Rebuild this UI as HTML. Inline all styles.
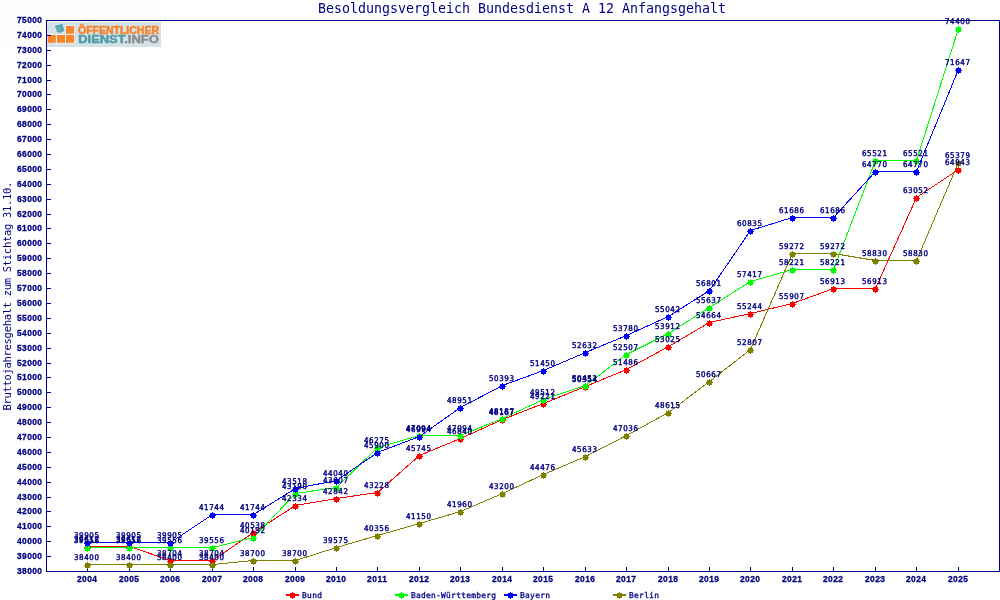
<!DOCTYPE html>
<html lang="de"><head><meta charset="utf-8"><title>Besoldungsvergleich Bundesdienst A 12 Anfangsgehalt</title>
<style>
html,body{margin:0;padding:0;background:#fff;}
body{width:1000px;height:600px;overflow:hidden;}
svg{display:block;}
text{fill:#000080;white-space:pre;}
.t0 text,text.t0{stroke:#000080;stroke-width:0.3px;}
.t0b text{stroke:#000080;stroke-width:0.3px;}
.tv text{stroke:#000080;stroke-width:0.4px;}
.t0{font-family:"DejaVu Sans Mono","Liberation Mono",monospace;font-size:7.9px;}
.t0b{font-family:"Liberation Sans","DejaVu Sans",sans-serif;font-size:8.4px;font-weight:bold;}
.tv{font-family:"DejaVu Sans","DejaVu Sans Mono",sans-serif;font-stretch:condensed;font-size:7.9px;}
.t1{font-family:"DejaVu Sans Mono","Liberation Mono",monospace;font-size:10.5px;}
.t2{font-family:"DejaVu Sans Mono","Liberation Mono",monospace;font-size:13.29px;}
.lg{font-family:"Liberation Sans",sans-serif;font-weight:bold;font-size:10.1px;stroke-width:0.45px;}
</style></head><body>
<svg width="1000" height="600" viewBox="0 0 1000 600">
<rect x="0" y="0" width="1000" height="600" fill="#ffffff"/>
<rect x="0" y="0" width="161" height="47" fill="#fdfefc"/>
<g id="logo">
<rect x="47" y="22" width="114" height="25" fill="#d5e3e9"/>
<path d="M47 34.2H75V43.6H47zM65.3 25.2H75V34.6H65.3z" fill="#eef3f4"/>
<rect x="47.7" y="35.0" width="8.1" height="7.8" fill="#fc8529"/>
<rect x="57.0" y="35.0" width="8.1" height="7.8" fill="#fc8529"/>
<rect x="66.0" y="35.0" width="8.1" height="7.8" fill="#fc8529"/>
<rect x="66.0" y="26.0" width="8.1" height="7.8" fill="#fc8529"/>
<path d="M55.2 25.5 L58.5 24.8 L62.8 23.7 L63.0 26.4 L64.2 28.6 L64.2 30.9 L63 31.8 L60.2 32.9 L58 32.4 L56.4 31.6 L56.3 28.8 L55.1 27.3 Z" fill="#5fa8b1" stroke="#eef3f4" stroke-width="1" paint-order="stroke" stroke-linejoin="round"/>
<text class="lg" x="78" y="33.6" style="fill:#fb8125;stroke:#fb8125" textLength="81" lengthAdjust="spacingAndGlyphs">ÖFFENTLICHER</text>
<text class="lg" x="78.2" y="42.6" textLength="80.6" lengthAdjust="spacingAndGlyphs"><tspan style="fill:#4f9ba6;stroke:#4f9ba6">DIENST</tspan><tspan style="fill:#8a8d92;stroke:#8a8d92">.INFO</tspan></text>
</g>
<text class="t2" x="522" y="12.6" text-anchor="middle" textLength="408" lengthAdjust="spacing">Besoldungsvergleich Bundesdienst A 12 Anfangsgehalt</text>
<text class="t1" transform="translate(11,296.1) rotate(-90)" text-anchor="middle" textLength="229" lengthAdjust="spacing">Bruttojahresgehalt zum Stichtag 31.10.</text>
<g shape-rendering="crispEdges" fill="#000080" stroke="none">
<rect x="46" y="20" width="954" height="1"/>
<rect x="46" y="571" width="954" height="1"/>
<rect x="46" y="20" width="1" height="552"/>
<rect x="999" y="20" width="1" height="552"/>
<path d="M87 567h1v4h-1zM129 567h1v4h-1zM170 567h1v4h-1zM212 567h1v4h-1zM253 567h1v4h-1zM295 567h1v4h-1zM336 567h1v4h-1zM377 567h1v4h-1zM419 567h1v4h-1zM460 567h1v4h-1zM502 567h1v4h-1zM543 567h1v4h-1zM585 567h1v4h-1zM626 567h1v4h-1zM668 567h1v4h-1zM709 567h1v4h-1zM750 567h1v4h-1zM792 567h1v4h-1zM833 567h1v4h-1zM875 567h1v4h-1zM916 567h1v4h-1zM958 567h1v4h-1zM47 571h4v1h-4zM47 556h4v1h-4zM47 541h4v1h-4zM47 526h4v1h-4zM47 511h4v1h-4zM47 497h4v1h-4zM47 482h4v1h-4zM47 467h4v1h-4zM47 452h4v1h-4zM47 437h4v1h-4zM47 422h4v1h-4zM47 407h4v1h-4zM47 392h4v1h-4zM47 377h4v1h-4zM47 363h4v1h-4zM47 348h4v1h-4zM47 333h4v1h-4zM47 318h4v1h-4zM47 303h4v1h-4zM47 288h4v1h-4zM47 273h4v1h-4zM47 258h4v1h-4zM47 243h4v1h-4zM47 228h4v1h-4zM47 214h4v1h-4zM47 199h4v1h-4zM47 184h4v1h-4zM47 169h4v1h-4zM47 154h4v1h-4zM47 139h4v1h-4zM47 124h4v1h-4zM47 109h4v1h-4zM47 94h4v1h-4zM47 80h4v1h-4zM47 65h4v1h-4zM47 50h4v1h-4zM47 35h4v1h-4zM47 20h4v1h-4z"/>
</g>
<g shape-rendering="crispEdges" fill="none" stroke-width="1">
<polyline points="87.5,546.5 129.5,546.5 170.5,560.5 212.5,560.5 253.5,532.5 295.5,505.5 336.5,498.5 377.5,492.5 419.5,455.5 460.5,438.5 502.5,419.5 543.5,403.5 585.5,386.5 626.5,369.5 668.5,346.5 709.5,322.5 750.5,313.5 792.5,303.5 833.5,288.5 875.5,288.5 916.5,197.5 958.5,169.5" stroke="#ff0000"/>
<polyline points="87.5,547.5 129.5,547.5 170.5,547.5 212.5,547.5 253.5,537.5 295.5,493.5 336.5,487.5 377.5,447.5 419.5,435.5 460.5,435.5 502.5,418.5 543.5,399.5 585.5,385.5 626.5,354.5 668.5,333.5 709.5,307.5 750.5,281.5 792.5,269.5 833.5,269.5 875.5,160.5 916.5,160.5 958.5,28.5" stroke="#00ff00"/>
<polyline points="87.5,542.5 129.5,542.5 170.5,542.5 212.5,514.5 253.5,514.5 295.5,488.5 336.5,480.5 377.5,452.5 419.5,436.5 460.5,407.5 502.5,385.5 543.5,370.5 585.5,352.5 626.5,335.5 668.5,316.5 709.5,290.5 750.5,230.5 792.5,217.5 833.5,217.5 875.5,171.5 916.5,171.5 958.5,69.5" stroke="#0000ff"/>
<polyline points="87.5,564.5 129.5,564.5 170.5,564.5 212.5,564.5 253.5,560.5 295.5,560.5 336.5,547.5 377.5,535.5 419.5,523.5 460.5,511.5 502.5,493.5 543.5,474.5 585.5,456.5 626.5,435.5 668.5,412.5 709.5,381.5 750.5,349.5 792.5,253.5 833.5,253.5 875.5,260.5 916.5,260.5 958.5,162.5" stroke="#808000"/>
</g>
<g shape-rendering="crispEdges" stroke="none">
<path d="M85 545h5v5h-5zM84 547h7v1h-7zM87 544h1v7h-1zM127 545h5v5h-5zM126 547h7v1h-7zM129 544h1v7h-1zM168 559h5v5h-5zM167 561h7v1h-7zM170 558h1v7h-1zM210 559h5v5h-5zM209 561h7v1h-7zM212 558h1v7h-1zM251 531h5v5h-5zM250 533h7v1h-7zM253 530h1v7h-1zM293 504h5v5h-5zM292 506h7v1h-7zM295 503h1v7h-1zM334 497h5v5h-5zM333 499h7v1h-7zM336 496h1v7h-1zM375 491h5v5h-5zM374 493h7v1h-7zM377 490h1v7h-1zM417 454h5v5h-5zM416 456h7v1h-7zM419 453h1v7h-1zM458 437h5v5h-5zM457 439h7v1h-7zM460 436h1v7h-1zM500 418h5v5h-5zM499 420h7v1h-7zM502 417h1v7h-1zM541 402h5v5h-5zM540 404h7v1h-7zM543 401h1v7h-1zM583 385h5v5h-5zM582 387h7v1h-7zM585 384h1v7h-1zM624 368h5v5h-5zM623 370h7v1h-7zM626 367h1v7h-1zM666 345h5v5h-5zM665 347h7v1h-7zM668 344h1v7h-1zM707 321h5v5h-5zM706 323h7v1h-7zM709 320h1v7h-1zM748 312h5v5h-5zM747 314h7v1h-7zM750 311h1v7h-1zM790 302h5v5h-5zM789 304h7v1h-7zM792 301h1v7h-1zM831 287h5v5h-5zM830 289h7v1h-7zM833 286h1v7h-1zM873 287h5v5h-5zM872 289h7v1h-7zM875 286h1v7h-1zM914 196h5v5h-5zM913 198h7v1h-7zM916 195h1v7h-1zM956 168h5v5h-5zM955 170h7v1h-7zM958 167h1v7h-1z" fill="#ff0000"/>
<path d="M85 546h5v5h-5zM84 548h7v1h-7zM87 545h1v7h-1zM127 546h5v5h-5zM126 548h7v1h-7zM129 545h1v7h-1zM168 546h5v5h-5zM167 548h7v1h-7zM170 545h1v7h-1zM210 546h5v5h-5zM209 548h7v1h-7zM212 545h1v7h-1zM251 536h5v5h-5zM250 538h7v1h-7zM253 535h1v7h-1zM293 492h5v5h-5zM292 494h7v1h-7zM295 491h1v7h-1zM334 486h5v5h-5zM333 488h7v1h-7zM336 485h1v7h-1zM375 446h5v5h-5zM374 448h7v1h-7zM377 445h1v7h-1zM417 434h5v5h-5zM416 436h7v1h-7zM419 433h1v7h-1zM458 434h5v5h-5zM457 436h7v1h-7zM460 433h1v7h-1zM500 417h5v5h-5zM499 419h7v1h-7zM502 416h1v7h-1zM541 398h5v5h-5zM540 400h7v1h-7zM543 397h1v7h-1zM583 384h5v5h-5zM582 386h7v1h-7zM585 383h1v7h-1zM624 353h5v5h-5zM623 355h7v1h-7zM626 352h1v7h-1zM666 332h5v5h-5zM665 334h7v1h-7zM668 331h1v7h-1zM707 306h5v5h-5zM706 308h7v1h-7zM709 305h1v7h-1zM748 280h5v5h-5zM747 282h7v1h-7zM750 279h1v7h-1zM790 268h5v5h-5zM789 270h7v1h-7zM792 267h1v7h-1zM831 268h5v5h-5zM830 270h7v1h-7zM833 267h1v7h-1zM873 159h5v5h-5zM872 161h7v1h-7zM875 158h1v7h-1zM914 159h5v5h-5zM913 161h7v1h-7zM916 158h1v7h-1zM956 27h5v5h-5zM955 29h7v1h-7zM958 26h1v7h-1z" fill="#00ff00"/>
<path d="M85 541h5v5h-5zM84 543h7v1h-7zM87 540h1v7h-1zM127 541h5v5h-5zM126 543h7v1h-7zM129 540h1v7h-1zM168 541h5v5h-5zM167 543h7v1h-7zM170 540h1v7h-1zM210 513h5v5h-5zM209 515h7v1h-7zM212 512h1v7h-1zM251 513h5v5h-5zM250 515h7v1h-7zM253 512h1v7h-1zM293 487h5v5h-5zM292 489h7v1h-7zM295 486h1v7h-1zM334 479h5v5h-5zM333 481h7v1h-7zM336 478h1v7h-1zM375 451h5v5h-5zM374 453h7v1h-7zM377 450h1v7h-1zM417 435h5v5h-5zM416 437h7v1h-7zM419 434h1v7h-1zM458 406h5v5h-5zM457 408h7v1h-7zM460 405h1v7h-1zM500 384h5v5h-5zM499 386h7v1h-7zM502 383h1v7h-1zM541 369h5v5h-5zM540 371h7v1h-7zM543 368h1v7h-1zM583 351h5v5h-5zM582 353h7v1h-7zM585 350h1v7h-1zM624 334h5v5h-5zM623 336h7v1h-7zM626 333h1v7h-1zM666 315h5v5h-5zM665 317h7v1h-7zM668 314h1v7h-1zM707 289h5v5h-5zM706 291h7v1h-7zM709 288h1v7h-1zM748 229h5v5h-5zM747 231h7v1h-7zM750 228h1v7h-1zM790 216h5v5h-5zM789 218h7v1h-7zM792 215h1v7h-1zM831 216h5v5h-5zM830 218h7v1h-7zM833 215h1v7h-1zM873 170h5v5h-5zM872 172h7v1h-7zM875 169h1v7h-1zM914 170h5v5h-5zM913 172h7v1h-7zM916 169h1v7h-1zM956 68h5v5h-5zM955 70h7v1h-7zM958 67h1v7h-1z" fill="#0000ff"/>
<path d="M85 563h5v5h-5zM84 565h7v1h-7zM87 562h1v7h-1zM127 563h5v5h-5zM126 565h7v1h-7zM129 562h1v7h-1zM168 563h5v5h-5zM167 565h7v1h-7zM170 562h1v7h-1zM210 563h5v5h-5zM209 565h7v1h-7zM212 562h1v7h-1zM251 559h5v5h-5zM250 561h7v1h-7zM253 558h1v7h-1zM293 559h5v5h-5zM292 561h7v1h-7zM295 558h1v7h-1zM334 546h5v5h-5zM333 548h7v1h-7zM336 545h1v7h-1zM375 534h5v5h-5zM374 536h7v1h-7zM377 533h1v7h-1zM417 522h5v5h-5zM416 524h7v1h-7zM419 521h1v7h-1zM458 510h5v5h-5zM457 512h7v1h-7zM460 509h1v7h-1zM500 492h5v5h-5zM499 494h7v1h-7zM502 491h1v7h-1zM541 473h5v5h-5zM540 475h7v1h-7zM543 472h1v7h-1zM583 455h5v5h-5zM582 457h7v1h-7zM585 454h1v7h-1zM624 434h5v5h-5zM623 436h7v1h-7zM626 433h1v7h-1zM666 411h5v5h-5zM665 413h7v1h-7zM668 410h1v7h-1zM707 380h5v5h-5zM706 382h7v1h-7zM709 379h1v7h-1zM748 348h5v5h-5zM747 350h7v1h-7zM750 347h1v7h-1zM790 252h5v5h-5zM789 254h7v1h-7zM792 251h1v7h-1zM831 252h5v5h-5zM830 254h7v1h-7zM833 251h1v7h-1zM873 259h5v5h-5zM872 261h7v1h-7zM875 258h1v7h-1zM914 259h5v5h-5zM913 261h7v1h-7zM916 258h1v7h-1zM956 161h5v5h-5zM955 163h7v1h-7zM958 160h1v7h-1z" fill="#808000"/>
</g>
<g class="tv" text-anchor="middle">
<text x="86.5" y="542" textLength="25" lengthAdjust="spacing">39612</text>
<text x="128.5" y="542" textLength="25" lengthAdjust="spacing">39612</text>
<text x="169.5" y="556" textLength="25" lengthAdjust="spacing">38704</text>
<text x="211.5" y="556" textLength="25" lengthAdjust="spacing">38704</text>
<text x="252.5" y="528" textLength="25" lengthAdjust="spacing">40538</text>
<text x="294.5" y="501" textLength="25" lengthAdjust="spacing">42334</text>
<text x="335.5" y="494" textLength="25" lengthAdjust="spacing">42842</text>
<text x="376.5" y="488" textLength="25" lengthAdjust="spacing">43228</text>
<text x="418.5" y="451" textLength="25" lengthAdjust="spacing">45745</text>
<text x="459.5" y="434" textLength="25" lengthAdjust="spacing">46840</text>
<text x="501.5" y="415" textLength="25" lengthAdjust="spacing">48167</text>
<text x="542.5" y="399" textLength="25" lengthAdjust="spacing">49221</text>
<text x="584.5" y="382" textLength="25" lengthAdjust="spacing">50354</text>
<text x="625.5" y="365" textLength="25" lengthAdjust="spacing">51486</text>
<text x="667.5" y="342" textLength="25" lengthAdjust="spacing">53025</text>
<text x="708.5" y="318" textLength="25" lengthAdjust="spacing">54664</text>
<text x="749.5" y="309" textLength="25" lengthAdjust="spacing">55244</text>
<text x="791.5" y="299" textLength="25" lengthAdjust="spacing">55907</text>
<text x="832.5" y="284" textLength="25" lengthAdjust="spacing">56913</text>
<text x="874.5" y="284" textLength="25" lengthAdjust="spacing">56913</text>
<text x="915.5" y="193" textLength="25" lengthAdjust="spacing">63052</text>
<text x="957.5" y="165" textLength="25" lengthAdjust="spacing">64943</text>
<text x="86.5" y="543" textLength="25" lengthAdjust="spacing">39556</text>
<text x="128.5" y="543" textLength="25" lengthAdjust="spacing">39556</text>
<text x="169.5" y="543" textLength="25" lengthAdjust="spacing">39556</text>
<text x="211.5" y="543" textLength="25" lengthAdjust="spacing">39556</text>
<text x="252.5" y="533" textLength="25" lengthAdjust="spacing">40192</text>
<text x="294.5" y="489" textLength="25" lengthAdjust="spacing">43190</text>
<text x="335.5" y="483" textLength="25" lengthAdjust="spacing">43607</text>
<text x="376.5" y="443" textLength="25" lengthAdjust="spacing">46275</text>
<text x="418.5" y="431" textLength="25" lengthAdjust="spacing">47094</text>
<text x="459.5" y="431" textLength="25" lengthAdjust="spacing">47094</text>
<text x="501.5" y="414" textLength="25" lengthAdjust="spacing">48187</text>
<text x="542.5" y="395" textLength="25" lengthAdjust="spacing">49512</text>
<text x="584.5" y="381" textLength="25" lengthAdjust="spacing">50452</text>
<text x="625.5" y="350" textLength="25" lengthAdjust="spacing">52507</text>
<text x="667.5" y="329" textLength="25" lengthAdjust="spacing">53912</text>
<text x="708.5" y="303" textLength="25" lengthAdjust="spacing">55637</text>
<text x="749.5" y="277" textLength="25" lengthAdjust="spacing">57417</text>
<text x="791.5" y="265" textLength="25" lengthAdjust="spacing">58221</text>
<text x="832.5" y="265" textLength="25" lengthAdjust="spacing">58221</text>
<text x="874.5" y="156" textLength="25" lengthAdjust="spacing">65521</text>
<text x="915.5" y="156" textLength="25" lengthAdjust="spacing">65521</text>
<text x="957.5" y="24" textLength="25" lengthAdjust="spacing">74400</text>
<text x="86.5" y="538" textLength="25" lengthAdjust="spacing">39905</text>
<text x="128.5" y="538" textLength="25" lengthAdjust="spacing">39905</text>
<text x="169.5" y="538" textLength="25" lengthAdjust="spacing">39905</text>
<text x="211.5" y="510" textLength="25" lengthAdjust="spacing">41744</text>
<text x="252.5" y="510" textLength="25" lengthAdjust="spacing">41744</text>
<text x="294.5" y="484" textLength="25" lengthAdjust="spacing">43518</text>
<text x="335.5" y="476" textLength="25" lengthAdjust="spacing">44040</text>
<text x="376.5" y="448" textLength="25" lengthAdjust="spacing">45900</text>
<text x="418.5" y="432" textLength="25" lengthAdjust="spacing">46994</text>
<text x="459.5" y="403" textLength="25" lengthAdjust="spacing">48951</text>
<text x="501.5" y="381" textLength="25" lengthAdjust="spacing">50393</text>
<text x="542.5" y="366" textLength="25" lengthAdjust="spacing">51450</text>
<text x="584.5" y="348" textLength="25" lengthAdjust="spacing">52632</text>
<text x="625.5" y="331" textLength="25" lengthAdjust="spacing">53780</text>
<text x="667.5" y="312" textLength="25" lengthAdjust="spacing">55042</text>
<text x="708.5" y="286" textLength="25" lengthAdjust="spacing">56801</text>
<text x="749.5" y="226" textLength="25" lengthAdjust="spacing">60835</text>
<text x="791.5" y="213" textLength="25" lengthAdjust="spacing">61686</text>
<text x="832.5" y="213" textLength="25" lengthAdjust="spacing">61686</text>
<text x="874.5" y="167" textLength="25" lengthAdjust="spacing">64770</text>
<text x="915.5" y="167" textLength="25" lengthAdjust="spacing">64770</text>
<text x="957.5" y="65" textLength="25" lengthAdjust="spacing">71647</text>
<text x="86.5" y="560" textLength="25" lengthAdjust="spacing">38400</text>
<text x="128.5" y="560" textLength="25" lengthAdjust="spacing">38400</text>
<text x="169.5" y="560" textLength="25" lengthAdjust="spacing">38400</text>
<text x="211.5" y="560" textLength="25" lengthAdjust="spacing">38400</text>
<text x="252.5" y="556" textLength="25" lengthAdjust="spacing">38700</text>
<text x="294.5" y="556" textLength="25" lengthAdjust="spacing">38700</text>
<text x="335.5" y="543" textLength="25" lengthAdjust="spacing">39575</text>
<text x="376.5" y="531" textLength="25" lengthAdjust="spacing">40356</text>
<text x="418.5" y="519" textLength="25" lengthAdjust="spacing">41150</text>
<text x="459.5" y="507" textLength="25" lengthAdjust="spacing">41960</text>
<text x="501.5" y="489" textLength="25" lengthAdjust="spacing">43200</text>
<text x="542.5" y="470" textLength="25" lengthAdjust="spacing">44476</text>
<text x="584.5" y="452" textLength="25" lengthAdjust="spacing">45633</text>
<text x="625.5" y="431" textLength="25" lengthAdjust="spacing">47036</text>
<text x="667.5" y="408" textLength="25" lengthAdjust="spacing">48615</text>
<text x="708.5" y="377" textLength="25" lengthAdjust="spacing">50667</text>
<text x="749.5" y="345" textLength="25" lengthAdjust="spacing">52807</text>
<text x="791.5" y="249" textLength="25" lengthAdjust="spacing">59272</text>
<text x="832.5" y="249" textLength="25" lengthAdjust="spacing">59272</text>
<text x="874.5" y="256" textLength="25" lengthAdjust="spacing">58830</text>
<text x="915.5" y="256" textLength="25" lengthAdjust="spacing">58830</text>
<text x="957.5" y="158" textLength="25" lengthAdjust="spacing">65379</text>
</g>
<g class="t0b">
<text x="42" y="574" text-anchor="end" textLength="25" lengthAdjust="spacing">38000</text>
<text x="42" y="559" text-anchor="end" textLength="25" lengthAdjust="spacing">39000</text>
<text x="42" y="544" text-anchor="end" textLength="25" lengthAdjust="spacing">40000</text>
<text x="42" y="529" text-anchor="end" textLength="25" lengthAdjust="spacing">41000</text>
<text x="42" y="514" text-anchor="end" textLength="25" lengthAdjust="spacing">42000</text>
<text x="42" y="500" text-anchor="end" textLength="25" lengthAdjust="spacing">43000</text>
<text x="42" y="485" text-anchor="end" textLength="25" lengthAdjust="spacing">44000</text>
<text x="42" y="470" text-anchor="end" textLength="25" lengthAdjust="spacing">45000</text>
<text x="42" y="455" text-anchor="end" textLength="25" lengthAdjust="spacing">46000</text>
<text x="42" y="440" text-anchor="end" textLength="25" lengthAdjust="spacing">47000</text>
<text x="42" y="425" text-anchor="end" textLength="25" lengthAdjust="spacing">48000</text>
<text x="42" y="410" text-anchor="end" textLength="25" lengthAdjust="spacing">49000</text>
<text x="42" y="395" text-anchor="end" textLength="25" lengthAdjust="spacing">50000</text>
<text x="42" y="380" text-anchor="end" textLength="25" lengthAdjust="spacing">51000</text>
<text x="42" y="366" text-anchor="end" textLength="25" lengthAdjust="spacing">52000</text>
<text x="42" y="351" text-anchor="end" textLength="25" lengthAdjust="spacing">53000</text>
<text x="42" y="336" text-anchor="end" textLength="25" lengthAdjust="spacing">54000</text>
<text x="42" y="321" text-anchor="end" textLength="25" lengthAdjust="spacing">55000</text>
<text x="42" y="306" text-anchor="end" textLength="25" lengthAdjust="spacing">56000</text>
<text x="42" y="291" text-anchor="end" textLength="25" lengthAdjust="spacing">57000</text>
<text x="42" y="276" text-anchor="end" textLength="25" lengthAdjust="spacing">58000</text>
<text x="42" y="261" text-anchor="end" textLength="25" lengthAdjust="spacing">59000</text>
<text x="42" y="246" text-anchor="end" textLength="25" lengthAdjust="spacing">60000</text>
<text x="42" y="231" text-anchor="end" textLength="25" lengthAdjust="spacing">61000</text>
<text x="42" y="217" text-anchor="end" textLength="25" lengthAdjust="spacing">62000</text>
<text x="42" y="202" text-anchor="end" textLength="25" lengthAdjust="spacing">63000</text>
<text x="42" y="187" text-anchor="end" textLength="25" lengthAdjust="spacing">64000</text>
<text x="42" y="172" text-anchor="end" textLength="25" lengthAdjust="spacing">65000</text>
<text x="42" y="157" text-anchor="end" textLength="25" lengthAdjust="spacing">66000</text>
<text x="42" y="142" text-anchor="end" textLength="25" lengthAdjust="spacing">67000</text>
<text x="42" y="127" text-anchor="end" textLength="25" lengthAdjust="spacing">68000</text>
<text x="42" y="112" text-anchor="end" textLength="25" lengthAdjust="spacing">69000</text>
<text x="42" y="97" text-anchor="end" textLength="25" lengthAdjust="spacing">70000</text>
<text x="42" y="83" text-anchor="end" textLength="25" lengthAdjust="spacing">71000</text>
<text x="42" y="68" text-anchor="end" textLength="25" lengthAdjust="spacing">72000</text>
<text x="42" y="53" text-anchor="end" textLength="25" lengthAdjust="spacing">73000</text>
<text x="42" y="38" text-anchor="end" textLength="25" lengthAdjust="spacing">74000</text>
<text x="42" y="23" text-anchor="end" textLength="25" lengthAdjust="spacing">75000</text>
<text x="87" y="582" text-anchor="middle" textLength="20" lengthAdjust="spacing">2004</text>
<text x="129" y="582" text-anchor="middle" textLength="20" lengthAdjust="spacing">2005</text>
<text x="170" y="582" text-anchor="middle" textLength="20" lengthAdjust="spacing">2006</text>
<text x="212" y="582" text-anchor="middle" textLength="20" lengthAdjust="spacing">2007</text>
<text x="253" y="582" text-anchor="middle" textLength="20" lengthAdjust="spacing">2008</text>
<text x="295" y="582" text-anchor="middle" textLength="20" lengthAdjust="spacing">2009</text>
<text x="336" y="582" text-anchor="middle" textLength="20" lengthAdjust="spacing">2010</text>
<text x="377" y="582" text-anchor="middle" textLength="20" lengthAdjust="spacing">2011</text>
<text x="419" y="582" text-anchor="middle" textLength="20" lengthAdjust="spacing">2012</text>
<text x="460" y="582" text-anchor="middle" textLength="20" lengthAdjust="spacing">2013</text>
<text x="502" y="582" text-anchor="middle" textLength="20" lengthAdjust="spacing">2014</text>
<text x="543" y="582" text-anchor="middle" textLength="20" lengthAdjust="spacing">2015</text>
<text x="585" y="582" text-anchor="middle" textLength="20" lengthAdjust="spacing">2016</text>
<text x="626" y="582" text-anchor="middle" textLength="20" lengthAdjust="spacing">2017</text>
<text x="668" y="582" text-anchor="middle" textLength="20" lengthAdjust="spacing">2018</text>
<text x="709" y="582" text-anchor="middle" textLength="20" lengthAdjust="spacing">2019</text>
<text x="750" y="582" text-anchor="middle" textLength="20" lengthAdjust="spacing">2020</text>
<text x="792" y="582" text-anchor="middle" textLength="20" lengthAdjust="spacing">2021</text>
<text x="833" y="582" text-anchor="middle" textLength="20" lengthAdjust="spacing">2022</text>
<text x="875" y="582" text-anchor="middle" textLength="20" lengthAdjust="spacing">2023</text>
<text x="916" y="582" text-anchor="middle" textLength="20" lengthAdjust="spacing">2024</text>
<text x="958" y="582" text-anchor="middle" textLength="20" lengthAdjust="spacing">2025</text>
</g>
<g id="legend">
<g shape-rendering="crispEdges" fill="#ff0000"><rect x="286" y="594" width="13" height="2"/>
<path d="M290 593h5v5h-5zM289 595h7v1h-7zM292 592h1v7h-1z"/></g>
<text class="t0" x="302" y="598" textLength="20.0" lengthAdjust="spacing">Bund</text>
<g shape-rendering="crispEdges" fill="#00ff00"><rect x="395" y="594" width="13" height="2"/>
<path d="M399 593h5v5h-5zM398 595h7v1h-7zM401 592h1v7h-1z"/></g>
<text class="t0" x="411" y="598" textLength="85.0" lengthAdjust="spacing">Baden-Württemberg</text>
<g shape-rendering="crispEdges" fill="#0000ff"><rect x="504" y="594" width="13" height="2"/>
<path d="M508 593h5v5h-5zM507 595h7v1h-7zM510 592h1v7h-1z"/></g>
<text class="t0" x="520" y="598" textLength="30.0" lengthAdjust="spacing">Bayern</text>
<g shape-rendering="crispEdges" fill="#808000"><rect x="613" y="594" width="13" height="2"/>
<path d="M617 593h5v5h-5zM616 595h7v1h-7zM619 592h1v7h-1z"/></g>
<text class="t0" x="629" y="598" textLength="30.0" lengthAdjust="spacing">Berlin</text>
</g>
</svg></body></html>
